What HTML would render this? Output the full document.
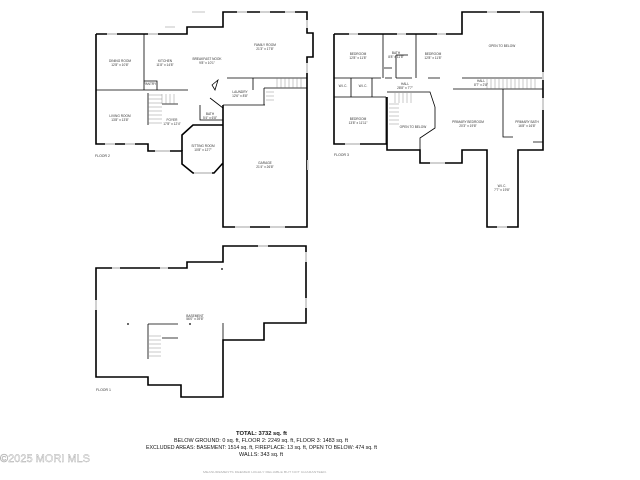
<!DOCTYPE html>
<html><head><style>
html,body{margin:0;padding:0;background:#fff;width:640px;height:480px;overflow:hidden}
svg{display:block}
text{font-family:"Liberation Sans",sans-serif}
.w{fill:none;stroke:#000;stroke-width:1.6;stroke-linejoin:miter}
.t{stroke:#000;stroke-width:0.8;fill:none}
.s{stroke:#777;stroke-width:0.4;fill:none}
.l{font-size:3.2px;fill:#333;text-anchor:middle}
.g{stroke:#ddd;stroke-width:1.8}
</style></head><body>
<svg width="640" height="480" viewBox="0 0 640 480" xmlns="http://www.w3.org/2000/svg">
<!-- FLOOR 2 -->
<path class="w" d="M96,34 H187 V27 H223 V12 H307 V33 H313 V57 H307 V88 M307,88 V227 H223 V105 M96,34 V144 H148 V151 H182 V164 L193,173 H214 L223,163 V105"/>
<path class="w" d="M182,151 V135 L193,125 H223"/>
<path class="t" d="M96,90 H188 M144,34 V78 M144,78 V90 M144,81 H157 V90 M148,93 V125 M162,104 H178 M227,78 H307 M223,105 H265 M253,78 V90 M264,88 H307 M264,88 V105 M200,105 V120 H223 M210,98 L223,108 M212,85 L218,80 L215,90 Z"/>
<path class="s" d="M148,95 H162 M148,99 H162 M148,103 H162 M148,107 H162 M148,111 H162 M148,115 H162 M148,119 H162 M148,123 H162 M162,94 V104 M166,94 V104 M170,94 V104 M174,94 V104 M277,78 V88 M281,78 V88 M285,78 V88 M289,78 V88 M293,78 V88 M297,78 V88 M301,78 V88 M266,92 H274 M266,96 H274 M266,100 H274"/>
<g class="g"><path d="M107,34H117M148,34H158M165,27H175M192,12H205M237,12H247M260,12H270M285,12H295M307,20V28M307,63V73M235,227H250M270,227H285M308,160V170M105,144H115M125,144H135M155,151H170M194,173H212"/></g>
<text class="l" x="120" y="62">DINING ROOM</text><text class="l" x="120" y="66">12'8" x 10'8"</text>
<text class="l" x="165" y="62">KITCHEN</text><text class="l" x="165" y="66">11'8" x 14'8"</text>
<text class="l" x="207" y="60">BREAKFAST NOOK</text><text class="l" x="207" y="64">9'8" x 10'1"</text>
<text class="l" x="265" y="46">FAMILY ROOM</text><text class="l" x="265" y="50">21'3" x 17'8"</text>
<text class="l" x="240" y="93">LAUNDRY</text><text class="l" x="240" y="97">12'6" x 8'8"</text>
<text class="l" x="120" y="117">LIVING ROOM</text><text class="l" x="120" y="121">13'8" x 13'8"</text>
<text class="l" x="172" y="121">FOYER</text><text class="l" x="172" y="125">17'8" x 12'4"</text>
<text class="l" x="210" y="115">BATH</text><text class="l" x="210" y="119">5'4" x 6'8"</text>
<text class="l" x="203" y="147">SITTING ROOM</text><text class="l" x="203" y="151">10'8" x 12'7"</text>
<text class="l" x="265" y="164">GARAGE</text><text class="l" x="265" y="168">21'4" x 26'8"</text>
<text class="l" x="150" y="85">PANTRY</text>
<text x="95" y="157" style="font-size:3.5px;fill:#333">FLOOR 2</text>
<!-- FLOOR 3 -->
<path class="w" d="M334,34 H462 V12 H543 V150 H518 V227 H487 V150 H462 V163 H420 V150 H387 V97 M334,34 V144 H387 V150"/>
<path class="t" d="M383,34 V78 M416,34 V78 M334,78 H381 M385,78 H392 M396,78 H412 M428,78 H440 M462,78 H543 M396,55 V78 M396,55 H408 M384,68 H392 M334,97 H386 M351,78 V97 M372,78 V97 M386,97 V144 M453,89 H543 M503,89 V137 H513 M533,142 H543 M435,107 V128 L420,138 V150"/>
<path class="t" d="M387,92 H430 L435,107"/>
<path class="s" d="M487,79 V89 M491,79 V89 M495,79 V89 M499,79 V89 M503,79 V89 M507,79 V89 M511,79 V89 M515,79 V89 M519,79 V89 M523,79 V89 M527,79 V89 M531,79 V89 M535,79 V89 M389,104 H399 M389,108 H399 M389,112 H399 M389,116 H399 M389,120 H399 M389,124 H399 M395,93 V103 M399,93 V103 M403,93 V103 M407,93 V103 M411,93 V103"/>
<g class="g"><path d="M349,34H358M397,34H406M437,34H446M487,12H497M520,12H530M543,72V80M345,144H360M430,163H445M497,227H507M543,98V110"/></g>
<text class="l" x="358" y="55">BEDROOM</text><text class="l" x="358" y="59">12'8" x 11'8"</text>
<text class="l" x="396" y="54">BATH</text><text class="l" x="396" y="58">8'8" x 11'8"</text>
<text class="l" x="433" y="55">BEDROOM</text><text class="l" x="433" y="59">12'8" x 11'8"</text>
<text class="l" x="502" y="47">OPEN TO BELOW</text>
<text class="l" x="405" y="85">HALL</text><text class="l" x="405" y="89">28'8" x 7'7"</text>
<text class="l" x="481" y="82">HALL</text><text class="l" x="481" y="86">8'7" x 2'8"</text>
<text class="l" x="343" y="87">W.I.C.</text><text class="l" x="363" y="87">W.I.C.</text>
<text class="l" x="358" y="120">BEDROOM</text><text class="l" x="358" y="124">13'8" x 11'11"</text>
<text class="l" x="413" y="128">OPEN TO BELOW</text>
<text class="l" x="468" y="123">PRIMARY BEDROOM</text><text class="l" x="468" y="127">20'3" x 19'8"</text>
<text class="l" x="527" y="123">PRIMARY BATH</text><text class="l" x="527" y="127">16'8" x 16'8"</text>
<text class="l" x="502" y="187">W.I.C.</text><text class="l" x="502" y="191">7'7" x 19'8"</text>
<text x="334" y="156" style="font-size:3.5px;fill:#333">FLOOR 3</text>
<!-- FLOOR 1 -->
<path class="w" d="M96,268 H187 V262 H223 V246 H306 V323 H264 V340 H223 V397 H181 V385 H148 V377 H96 Z"/>
<path class="t" d="M223,323 V340 M148,324 H178 M148,324 V359 M162,338 H178"/>
<path class="s" d="M149,340 H161 M149,344 H161 M149,348 H161 M149,352 H161 M149,356 H161 M149,336 H161"/>
<g class="g"><path d="M112,268H120M160,268H168M258,246H268M306,252V262M306,298V308M96,300V310"/></g>
<circle cx="128" cy="324" r="0.9"/><circle cx="190" cy="324" r="0.9"/><circle cx="222" cy="269" r="0.9"/>
<text class="l" x="195" y="317">BASEMENT</text><text class="l" x="195" y="320">56'0" x 39'8"</text>
<text x="96" y="391" style="font-size:3.5px;fill:#333">FLOOR 1</text>
<!-- Text -->
<g style="font-size:5.4px;fill:#111">
<text x="236" y="435" textLength="51" lengthAdjust="spacingAndGlyphs" style="font-weight:bold;font-size:5.8px">TOTAL: 3732 sq. ft</text>
<text x="174" y="442" textLength="174" lengthAdjust="spacingAndGlyphs">BELOW GROUND: 0 sq. ft, FLOOR 2: 2249 sq. ft, FLOOR 3: 1483 sq. ft</text>
<text x="146" y="449" textLength="231" lengthAdjust="spacingAndGlyphs">EXCLUDED AREAS: BASEMENT: 1514 sq. ft, FIREPLACE: 13 sq. ft, OPEN TO BELOW: 474 sq. ft</text>
<text x="239" y="456" textLength="44" lengthAdjust="spacingAndGlyphs">WALLS: 343 sq. ft</text>
</g>
<text x="203" y="473" textLength="124" lengthAdjust="spacingAndGlyphs" style="font-size:2.8px;fill:#aaa">MEASUREMENTS DEEMED HIGHLY RELIABLE BUT NOT GUARANTEED.</text>
<text x="0" y="462" textLength="90" lengthAdjust="spacingAndGlyphs" style="font-size:11px;fill:#fff;stroke:#aaa;stroke-width:0.4">©2025 MORI MLS</text>
</svg>
</body></html>
